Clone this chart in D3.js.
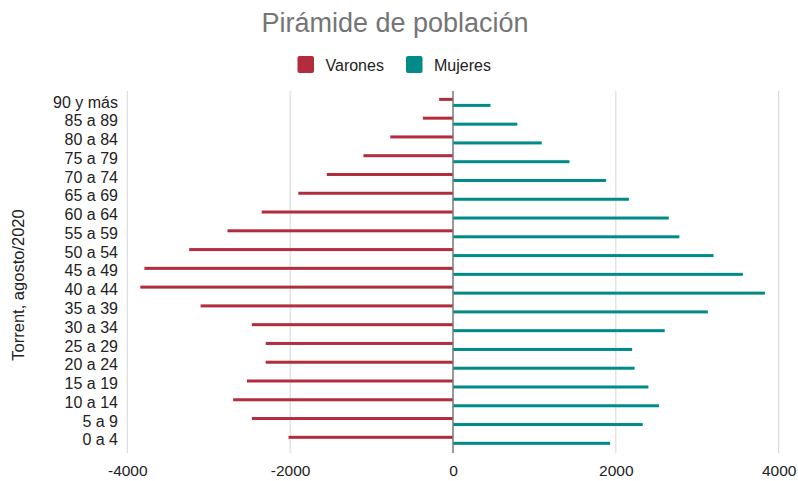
<!DOCTYPE html>
<html>
  <head>
    <meta charset="utf-8" />
    <title>Pirámide de población</title>
    <script src="https://cdn.jsdelivr.net/npm/d3@7/dist/d3.min.js"></script>
    <style>
      body { margin: 0; background: #fff; }
      text { font-family: "Liberation Sans", Arial, sans-serif; }
    </style>
  </head>
  <body>
    <script>
      // grupos de edad, de arriba abajo
      const grupos = ["90 y más", "85 a 89", "80 a 84", "75 a 79", "70 a 74", "65 a 69",
        "60 a 64", "55 a 59", "50 a 54", "45 a 49", "40 a 44", "35 a 39", "30 a 34",
        "25 a 29", "20 a 24", "15 a 19", "10 a 14", "5 a 9", "0 a 4"];
      const varones = [170, 370, 770, 1100, 1550, 1900, 2350, 2770, 3240, 3790, 3840,
        3100, 2470, 2300, 2300, 2530, 2700, 2470, 2020];
      const mujeres = [460, 790, 1090, 1430, 1880, 2160, 2650, 2780, 3200, 3560, 3830,
        3130, 2600, 2200, 2230, 2400, 2530, 2330, 1930];
      const series = ["Varones", "Mujeres"];
      const colores = ["#b22c3d", "#008a8a"];
      const xTicks = [-4000, -2000, 0, 2000, 4000];

      const w = 798, h = 481;
      const svg = d3.select("body").append("svg").attr("width", w).attr("height", h);

      const x = d3.scaleLinear().domain([-4000, 4000]).range([127.3, 778.7]);
      const y = d3.scaleBand().domain(grupos).range([93, 449.7]);
      const ySub = d3.scaleBand().domain(series).range([y.bandwidth() / 2 - 4.5, y.bandwidth() / 2 + 4.5]).paddingInner(0.5);

      // lineas de cuadricula
      svg.append("g").selectAll("line").data(xTicks.filter(d => d !== 0)).enter().append("line")
        .attr("x1", d => x(d)).attr("x2", d => x(d))
        .attr("y1", 91).attr("y2", 453)
        .attr("stroke", "#d6d6d6").attr("stroke-width", 1);

      const datos = grupos.map((g, i) => ({ g, v: varones[i], m: mujeres[i] }));

      svg.append("g").selectAll("rect").data(datos).enter().append("rect")
        .attr("x", d => x(-d.v)).attr("width", d => x(0) - x(-d.v))
        .attr("y", d => y(d.g) + ySub("Varones")).attr("height", ySub.bandwidth())
        .attr("fill", colores[0]);

      svg.append("g").selectAll("rect").data(datos).enter().append("rect")
        .attr("x", x(0)).attr("width", d => x(d.m) - x(0))
        .attr("y", d => y(d.g) + ySub("Mujeres")).attr("height", ySub.bandwidth())
        .attr("fill", colores[1]);

      // eje cero
      svg.append("line").attr("x1", x(0)).attr("x2", x(0)).attr("y1", 91).attr("y2", 453)
        .attr("stroke", "#777").attr("stroke-width", 1.5);

      // eje x
      const xAxis = d3.axisBottom(x).tickValues(xTicks).tickSize(0).tickPadding(0)
        .tickFormat(d => String(d));
      const gx = svg.append("g").attr("transform", "translate(0,476)").call(xAxis);
      gx.select(".domain").remove();
      gx.selectAll("text").attr("dy", 0).attr("fill", "#222").style("font-size", "15.5px");

      // eje y
      const yAxis = d3.axisLeft(y).tickSize(0).tickPadding(0);
      const gy = svg.append("g").attr("transform", "translate(118,0)").call(yAxis);
      gy.select(".domain").remove();
      gy.selectAll("text").attr("fill", "#222").style("font-size", "16px");

      svg.append("text")
        .attr("transform", "translate(24,285) rotate(-90)")
        .attr("text-anchor", "middle").attr("fill", "#222").style("font-size", "16.5px")
        .text("Torrent, agosto/2020");

      // titulo
      svg.append("text").attr("x", 395).attr("y", 32).attr("text-anchor", "middle")
        .attr("fill", "#757575").style("font-size", "27px").text("Pirámide de población");

      // leyenda
      const leyenda = svg.append("g").selectAll("g").data(series).enter().append("g")
        .attr("transform", (d, i) => "translate(" + [297.5, 406][i] + ",56)");
      leyenda.append("rect").attr("width", 16.5).attr("height", 17).attr("rx", 2)
        .attr("fill", (d, i) => colores[i]);
      leyenda.append("text").attr("x", 28).attr("y", 14.5).attr("fill", "#222")
        .style("font-size", "16px").text(d => d);
    </script>
  </body>
</html>
